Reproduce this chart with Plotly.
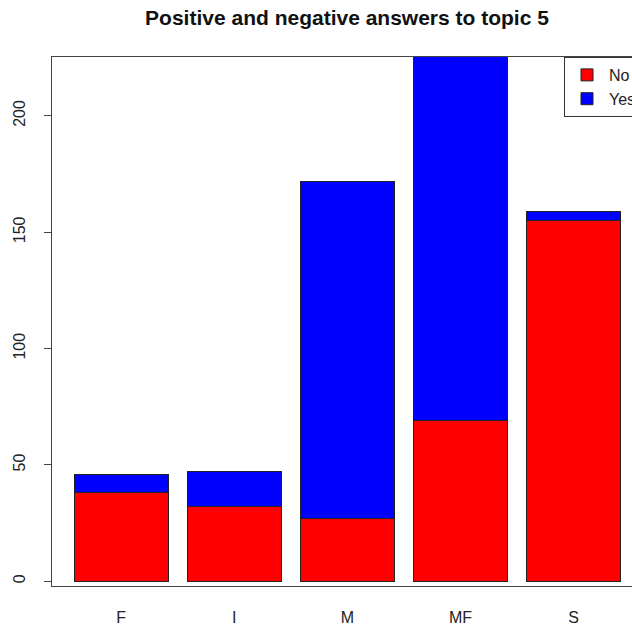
import plotly.graph_objects as go

categories = ["F", "I", "M", "MF", "S"]
no_values = [38, 32, 27, 69, 155]
yes_values = [8, 15, 145, 171, 4]
y_ticks = [0, 50, 100, 150, 200]

FONT = "Liberation Sans, Arial, sans-serif"
line_style = dict(color="#222222", width=1)

W, H = 632, 630

fig = go.Figure()
fig.add_trace(go.Bar(x=categories, y=no_values, name="No",
                     marker=dict(color="#FF0000", line=line_style), width=0.83))
fig.add_trace(go.Bar(x=categories, y=yes_values, name="Yes",
                     marker=dict(color="#0000FF", line=line_style), width=0.83))

plot_w = 632 - 52
fig.update_layout(
    width=W, height=H,
    barmode="stack",
    paper_bgcolor="white", plot_bgcolor="white",
    margin=dict(l=52, r=0, t=57, b=44, pad=0, autoexpand=False),
    font=dict(family=FONT, size=16, color="#222222"),
    title=dict(text="<b>Positive and negative answers to topic 5</b>",
               x=347 / W, xref="container", xanchor="center",
               y=1 - 18 / H, yref="container", yanchor="middle",
               font=dict(family=FONT, size=21, color="#111111")),
    showlegend=True,
    legend=dict(x=(564 - 52) / plot_w, y=1, xanchor="left", yanchor="top",
                traceorder="normal", bgcolor="white",
                bordercolor="#333333", borderwidth=1,
                font=dict(family=FONT, size=16, color="#222222"),
                itemwidth=34, tracegroupgap=0),
    xaxis=dict(range=[-0.612, 4.517], showgrid=False, zeroline=False,
               showline=True, linecolor="#444444", linewidth=1, mirror=True,
               ticks="outside", ticklen=17, tickcolor="rgba(0,0,0,0)",
               tickfont=dict(family=FONT, size=16, color="#222222")),
    yaxis=dict(range=[-2.02, 225.3], showgrid=False, zeroline=False,
               showline=True, linecolor="#444444", linewidth=1,
               tickvals=y_ticks, ticks="outside", ticklen=7,
               tickcolor="#444444", tickangle=-90,
               ticklabelstandoff=13,
               tickfont=dict(family=FONT, size=16, color="#222222")),
)

fig.write_html(
    "out.html",
    config={"displayModeBar": False},
    post_script="document.body.style.margin='0';document.body.style.overflow='hidden';",
)
